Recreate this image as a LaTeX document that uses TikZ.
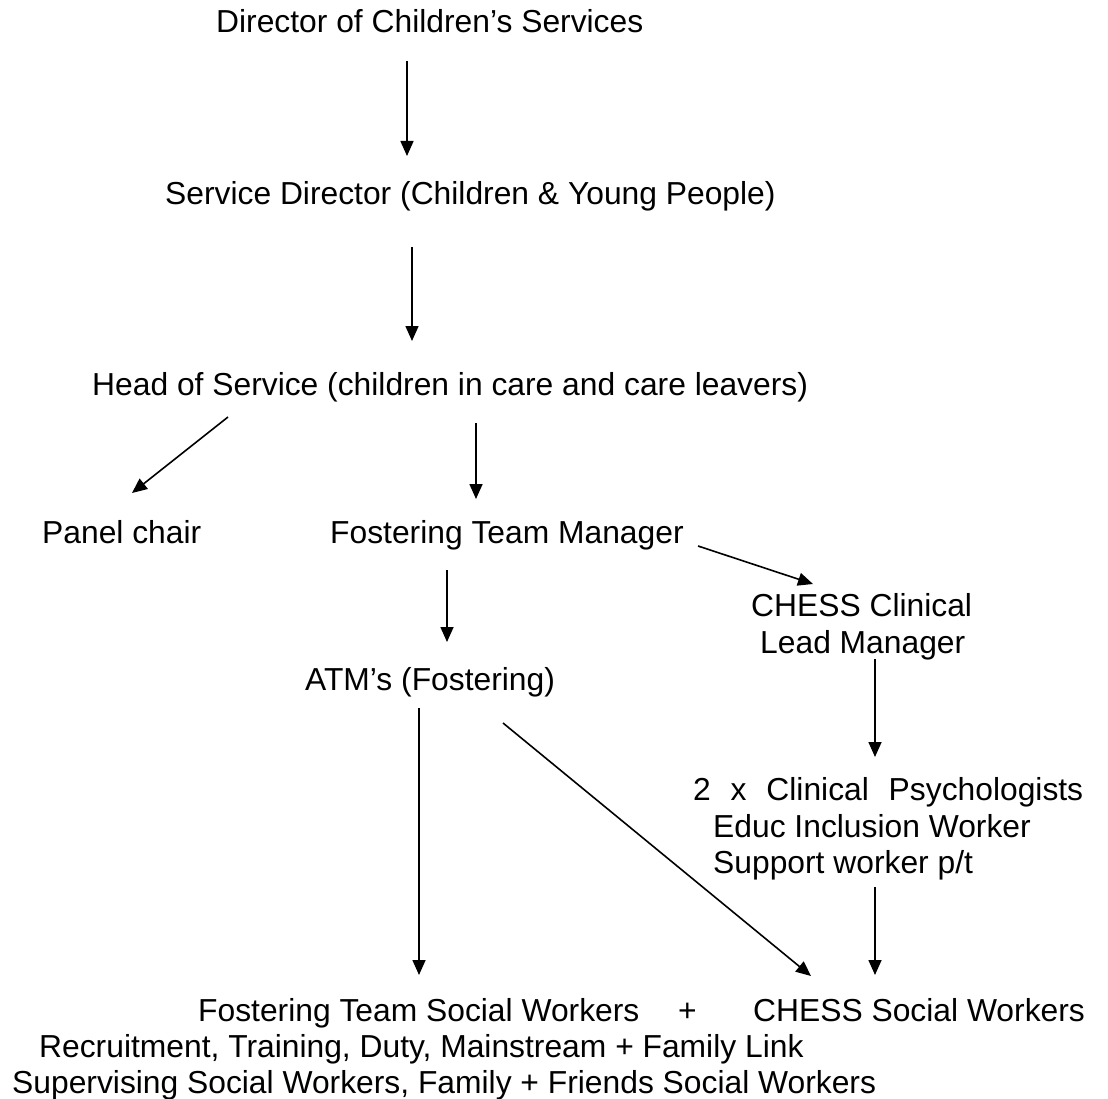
\documentclass[tikz,border=0pt]{standalone}
\usepackage{fontspec}
\setmainfont{Liberation Sans}
\usetikzlibrary{arrows.meta}
\begin{document}
\begin{tikzpicture}[x=1pt,y=-1pt,
  lbl/.style={anchor=base west,inner sep=0pt,font=\fontsize{31.8pt}{36.6pt}\selectfont},
  link/.style={line width=1.6pt,-{Triangle[length=15pt,width=13pt]}}]
\useasboundingbox (0,0) rectangle (1108,1099);

% posts, placed by their baselines
\node[lbl] (dcs)  at (216,33)   {Director of Children’s Services};
\node[lbl] (sd)   at (165,205)  {Service Director (Children \& Young People)};
\node[lbl] (hos)  at (92,395)   {Head of Service (children in care and care leavers)};
\node[lbl] (pc)   at (42,543)   {Panel chair};
\node[lbl] (ftm)  at (330,543)  {Fostering Team Manager};
\node[lbl] (ch1)  at (751,616)  {CHESS Clinical};
\node[lbl] (ch2)  at (760,653)  {Lead Manager};
\node[lbl] (atm)  at (305,690)  {ATM’s (Fostering)};
\node[lbl] (psy1) at (693,800)  {\makebox[390pt][s]{2 x Clinical Psychologists}};
\node[lbl] (psy2) at (713,837)  {Educ Inclusion Worker};
\node[lbl] (psy3) at (713,873)  {Support worker p/t};
\node[lbl] (fsw)  at (198,1021) {Fostering Team Social Workers};
\node[lbl] (plus) at (678,1021) {+};
\node[lbl] (csw)  at (753,1021) {CHESS Social Workers};
\node[lbl] (rec)  at (39,1057)  {Recruitment, Training, Duty, Mainstream + Family Link};
\node[lbl] (sup)  at (12,1093)  {Supervising Social Workers, Family + Friends Social Workers};

% reporting lines
\draw[link] ([shift={(191pt,-28pt)}]dcs.base west) -- ([shift={(242pt,49pt)}]sd.base west);
\draw[link] ([shift={(247pt,-42pt)}]sd.base west)  -- ([shift={(320pt,54pt)}]hos.base west);
\draw[link] ([shift={(136pt,-22pt)}]hos.base west) -- ([shift={(90pt,50pt)}]pc.base west);
\draw[link] ([shift={(384pt,-28pt)}]hos.base west) -- ([shift={(146pt,44pt)}]ftm.base west);
\draw[link] ([shift={(117pt,-27pt)}]ftm.base west) -- ([shift={(142pt,48pt)}]atm.base west);
\draw[link] ([shift={(368pt,-3pt)}]ftm.base west)  -- ([shift={(62pt,32pt)}]ch1.base west);
\draw[link] ([shift={(115pt,-6pt)}]ch2.base west)  -- ([shift={(182pt,43pt)}]psy1.base west);
\draw[link] ([shift={(114pt,-18pt)}]atm.base west) -- ([shift={(221pt,46pt)}]fsw.base west);
\draw[link] ([shift={(198pt,-33pt)}]atm.base west) -- ([shift={(58pt,45pt)}]csw.base west);
\draw[link] ([shift={(162pt,-14pt)}]psy3.base west) -- ([shift={(122pt,46pt)}]csw.base west);
\end{tikzpicture}
\end{document}
